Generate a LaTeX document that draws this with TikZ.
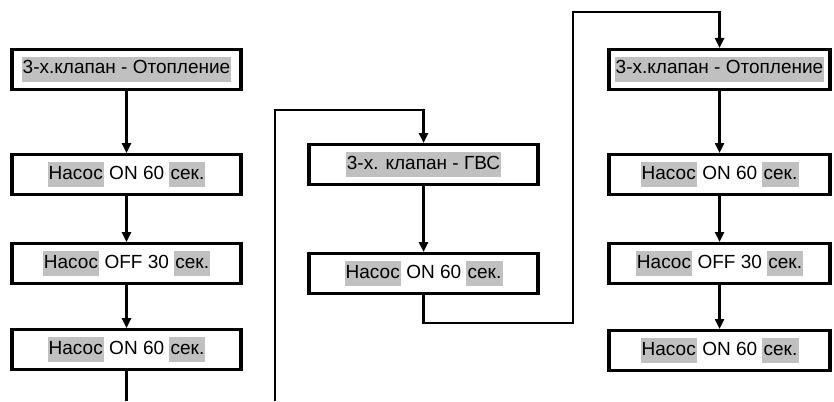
\documentclass[tikz,border=0pt]{standalone}
\usepackage{fontspec}
\setmainfont{Liberation Sans}
\usetikzlibrary{arrows.meta}
\definecolor{hlgray}{RGB}{192,192,192}
\newcommand{\hlw}[1]{{\setlength{\fboxsep}{1.2pt}\colorbox{hlgray}{\strut #1}}}
\tikzset{
  stepbox/.style={draw=black, line width=3.2pt, fill=white, minimum width=229pt, minimum height=40pt, inner sep=0pt, font=\fontsize{19}{22}\selectfont, anchor=north},
  conn/.style={line width=2.4pt, -{Triangle[width=9pt,length=10pt]}},
  plain/.style={line width=2.4pt}
}
\begin{document}
\begin{tikzpicture}[x=1pt,y=-1pt]
\useasboundingbox (0,0) rectangle (834,401);
% left column
\node[stepbox] (L1) at (126.5,48) {\hlw{3-х.клапан - Отопление}};
\node[stepbox] (L2) at (126.5,153) {\hlw{Насос} ON 60 \hlw{сек.}};
\node[stepbox] (L3) at (126.5,242) {\hlw{Насос} OFF 30 \hlw{сек.}};
\node[stepbox] (L4) at (126.5,328) {\hlw{Насос} ON 60 \hlw{сек.}};
% middle column
\node[stepbox] (M1) at (423.5,143) {\hlw{3-х. клапан - ГВС}};
\node[stepbox] (M2) at (423.5,252) {\hlw{Насос} ON 60 \hlw{сек.}};
% right column
\node[stepbox, minimum width=221pt] (R1) at (719.5,48) {\hlw{3-х.клапан - Отопление}};
\node[stepbox, minimum width=221pt] (R2) at (719.5,153) {\hlw{Насос} ON 60 \hlw{сек.}};
\node[stepbox, minimum width=221pt] (R3) at (719.5,242) {\hlw{Насос} OFF 30 \hlw{сек.}};
\node[stepbox, minimum width=221pt] (R4) at (719.5,329) {\hlw{Насос} ON 60 \hlw{сек.}};
% coordinates
\coordinate (Lend) at (126.5,401);
\coordinate (Mstart) at (275,401);
\coordinate (Mtop) at (275,110);
\coordinate (M2b) at (423.5,323);
\coordinate (Rx) at (573,323);
\coordinate (Rtop) at (573,12);
% connectors
\draw[conn] (L1) -- (L2);
\draw[conn] (L2) -- (L3);
\draw[conn] (L3) -- (L4);
\draw[plain] (L4.south) -- (Lend);
\draw[conn] (Mstart) -- (Mtop) -| (M1.north);
\draw[conn] (M1) -- (M2);
\draw[conn] (M2.south) -- (M2b) -- (Rx) -- (Rtop) -| (R1.north);
\draw[conn] (R1) -- (R2);
\draw[conn] (R2) -- (R3);
\draw[conn] (R3) -- (R4);
\end{tikzpicture}
\end{document}
